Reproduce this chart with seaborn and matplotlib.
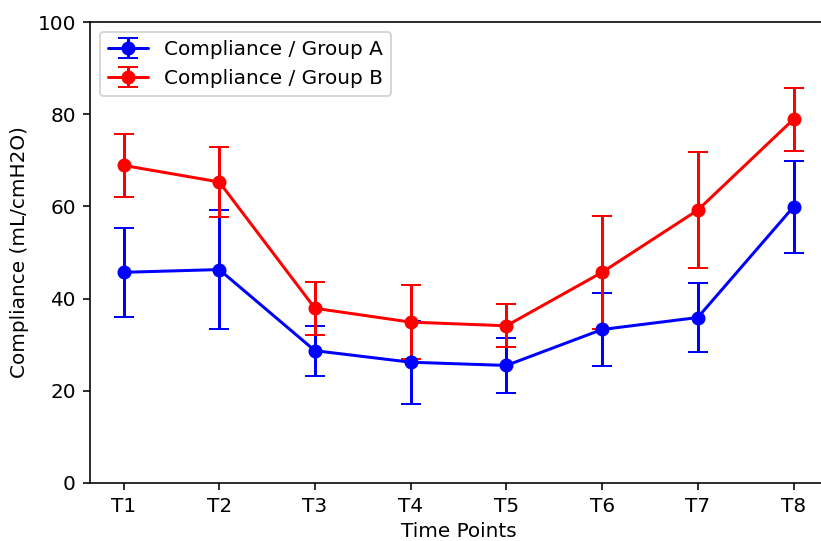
import numpy as np
import matplotlib
matplotlib.use("Agg")
import matplotlib.pyplot as plt
import seaborn as sns

time_points = ["T1", "T2", "T3", "T4", "T5", "T6", "T7", "T8"]
group_a_mean = [45.7, 46.3, 28.7, 26.2, 25.5, 33.3, 35.9, 59.9]
group_a_err = [9.7, 13.0, 5.4, 9.0, 6.0, 8.0, 7.5, 10.0]
group_b_mean = [68.9, 65.3, 37.9, 34.9, 34.1, 45.7, 59.2, 78.9]
group_b_err = [6.8, 7.5, 5.8, 8.1, 4.7, 12.2, 12.6, 6.8]

sns.set_style("ticks", {"axes.edgecolor": "black", "text.color": "black",
                        "xtick.color": "black", "ytick.color": "black",
                        "axes.labelcolor": "black"})
plt.rcParams['font.family'] = ['DejaVu Sans']

DPI = 144
fig = plt.figure(figsize=(821 / DPI, 541 / DPI), dpi=DPI)
ax = fig.add_axes([90 / 821, 58 / 541, 0.8977, 461 / 541])

x = np.arange(len(time_points))
ax.errorbar(x, group_a_mean, yerr=group_a_err, color="blue", marker="o",
            markersize=6, capsize=5, linewidth=1.5, label="Compliance / Group A")
ax.errorbar(x, group_b_mean, yerr=group_b_err, color="red", marker="o",
            markersize=6, capsize=5, linewidth=1.5, label="Compliance / Group B")

ax.set_xticks(x)
ax.set_xticklabels(time_points)
ax.set_xlim(-0.35, 7.35)
ax.set_ylim(0, 100)
ax.set_yticks([0, 20, 40, 60, 80, 100])
ax.set_xlabel("Time Points", labelpad=3)
ax.set_ylabel("Compliance (mL/cmH2O)")
ax.legend(loc="upper left")

fig.savefig("out.png", dpi=DPI)
